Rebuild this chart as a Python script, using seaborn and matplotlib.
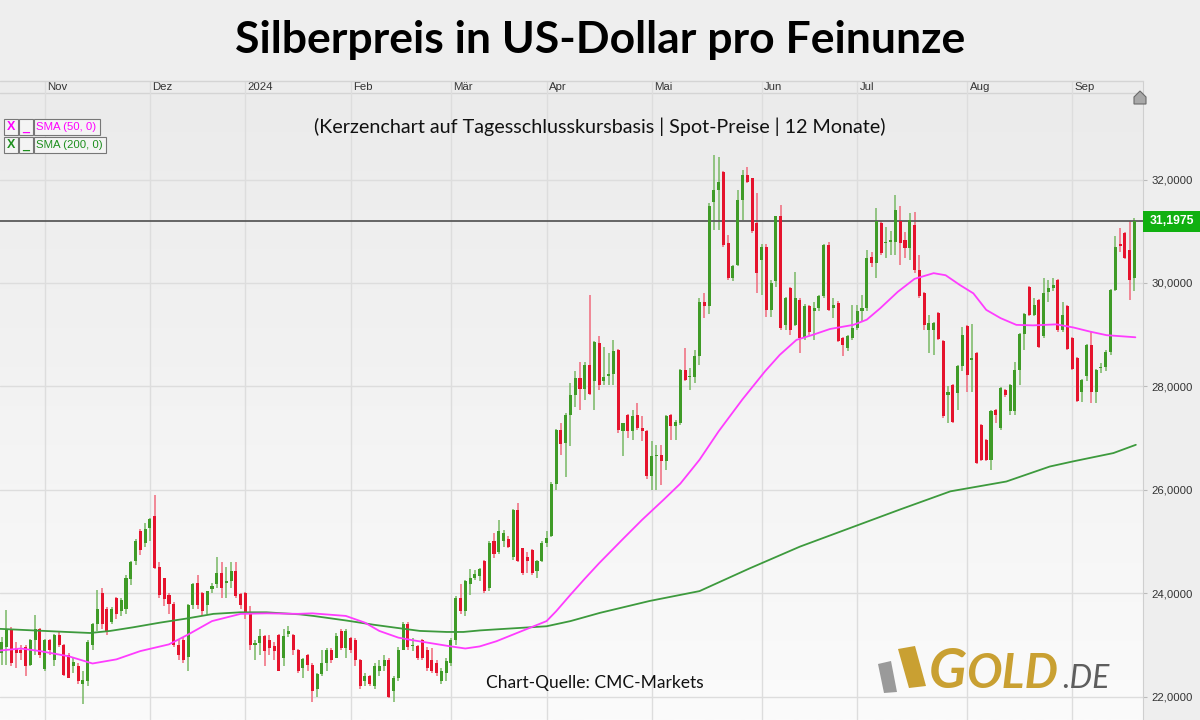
import numpy as np
import matplotlib
matplotlib.use("Agg")
import matplotlib.pyplot as plt
from matplotlib.patches import Polygon, Rectangle
from matplotlib.colors import LinearSegmentedColormap
import seaborn as sns

sns.set_style("white")
plt.rcParams["font.family"] = ["Liberation Sans", "DejaVu Sans"]

# month strip (first trading day index of each month)
month_labels = ["Nov", "Dez", "2024", "Feb", "Mär", "Apr", "Mai", "Jun", "Jul", "Aug", "Sep"]
month_start = [9, 31, 51, 73, 94, 114, 136, 159, 179, 202, 224]

# daily candles (Oct 2023 - Sep 2024)
opens = [22.85, 22.95, 23.30, 22.94, 22.90, 22.95, 22.62, 23.10, 23.30, 22.53,
         23.10, 22.70, 23.20, 23.00, 22.80, 22.60, 22.60, 22.24, 22.30, 23.00,
         23.40, 24.00, 23.70, 23.45, 23.90, 23.65, 23.70, 24.27, 24.62, 25.20,
         24.98, 25.26, 25.50, 24.50, 24.30, 23.97, 23.80, 23.00, 23.10, 22.77,
         23.78, 24.20, 24.00, 23.78, 24.08, 24.17, 24.40, 24.20, 24.23, 24.42,
         23.98, 24.00, 23.62, 23.00, 23.03, 23.17, 23.10, 22.98, 23.20, 22.75,
         23.22, 23.20, 22.90, 22.56, 22.80, 22.62, 22.14, 22.43, 22.65, 22.90,
         22.75, 23.27, 22.94, 23.13, 23.10, 22.70, 22.30, 22.40, 22.20, 22.50,
         22.60, 22.70, 22.10, 22.36, 22.90, 23.40, 22.97, 22.98, 23.10, 22.90,
         22.70, 22.65, 22.30, 22.46, 22.65, 23.10, 23.90, 23.65, 24.17, 24.30,
         24.33, 24.62, 24.10, 25.00, 24.80, 25.00, 25.04, 24.70, 25.60, 24.87,
         24.70, 24.84, 24.42, 24.62, 24.97, 25.10, 26.12, 27.16, 26.90, 27.45,
         27.84, 28.16, 27.94, 28.42, 28.10, 28.84, 28.11, 28.20, 28.24, 28.71,
         27.13, 27.45, 27.13, 27.45, 27.20, 27.13, 26.26, 26.65, 26.68, 26.55,
         27.45, 27.23, 27.30, 28.32, 28.18, 28.19, 28.58, 29.64, 29.55, 31.57,
         31.80, 32.15, 30.77, 30.10, 30.35, 31.61, 32.09, 32.03, 31.16, 30.45,
         30.70, 29.48, 30.03, 31.29, 29.19, 29.90, 29.19, 29.67, 28.93, 29.55,
         29.45, 29.51, 29.74, 30.74, 29.51, 29.61, 28.93, 28.74, 28.93, 29.13,
         29.45, 29.51, 30.51, 30.38, 31.16, 30.77, 30.80, 30.80, 31.20, 30.83,
         30.67, 31.12, 30.25, 29.80, 29.10, 29.10, 29.42, 28.87, 27.84, 28.03,
         27.87, 28.39, 29.16, 28.52, 28.64, 27.26, 26.97, 26.58, 27.55, 27.20,
         27.93, 27.52, 27.52, 28.32, 29.01, 29.93, 29.38, 29.67, 28.97, 29.83,
         29.90, 30.06, 29.10, 29.55, 28.93, 28.55, 27.90, 28.20, 28.80, 27.90,
         28.35, 28.38, 28.67, 29.87, 30.75, 30.96, 30.64, 30.09]
highs = [23.15, 23.68, 23.35, 23.05, 23.00, 23.00, 23.12, 23.57, 23.32, 23.12,
         23.12, 23.22, 23.24, 23.02, 22.85, 22.75, 22.65, 22.50, 23.10, 23.43,
         24.07, 24.10, 23.73, 23.73, 23.92, 23.90, 24.35, 24.62, 25.05, 25.25,
         25.35, 25.45, 25.90, 24.60, 24.30, 24.00, 23.82, 23.10, 23.15, 23.80,
         24.20, 24.35, 24.02, 24.05, 24.20, 24.70, 24.60, 24.50, 24.60, 24.60,
         24.00, 24.02, 23.76, 23.10, 23.30, 23.20, 23.20, 23.05, 23.22, 23.30,
         23.36, 23.22, 22.92, 22.75, 22.82, 22.65, 22.45, 22.90, 22.94, 22.94,
         23.23, 23.30, 23.30, 23.15, 23.13, 22.72, 22.45, 22.42, 22.65, 22.70,
         22.80, 22.75, 22.40, 22.95, 23.45, 23.45, 23.13, 23.00, 23.12, 22.95,
         22.94, 22.70, 22.55, 22.75, 23.13, 23.95, 24.17, 24.26, 24.46, 24.45,
         24.49, 24.64, 25.00, 25.16, 25.42, 25.22, 25.10, 25.62, 25.74, 24.88,
         24.80, 24.85, 24.64, 25.00, 25.20, 26.15, 27.18, 27.30, 27.48, 28.06,
         28.29, 28.48, 28.48, 29.77, 28.87, 28.97, 28.77, 28.64, 28.90, 28.72,
         27.30, 27.47, 27.55, 27.68, 27.42, 27.15, 26.94, 26.87, 26.87, 27.44,
         27.47, 27.35, 28.34, 28.74, 28.35, 28.71, 29.70, 29.80, 31.54, 32.48,
         32.44, 32.17, 30.93, 30.35, 31.80, 32.19, 32.25, 32.03, 31.74, 30.75,
         30.75, 30.05, 31.30, 31.50, 29.72, 29.92, 30.22, 29.70, 29.60, 29.58,
         29.64, 29.76, 30.76, 30.80, 29.70, 29.65, 28.95, 29.00, 29.58, 29.58,
         29.77, 30.64, 30.60, 31.45, 31.20, 31.09, 31.00, 31.70, 31.48, 30.99,
         31.35, 31.38, 30.54, 29.82, 29.38, 29.25, 29.44, 28.89, 28.00, 28.05,
         28.42, 29.15, 29.18, 29.20, 28.66, 27.28, 26.99, 27.54, 27.57, 27.99,
         27.95, 28.05, 28.48, 29.03, 29.42, 29.95, 29.71, 29.69, 30.09, 30.06,
         30.10, 30.08, 29.64, 29.57, 28.95, 28.57, 28.15, 28.82, 29.06, 28.34,
         28.45, 28.70, 29.89, 30.90, 31.06, 30.98, 31.20, 31.25]
lows = [22.62, 22.62, 22.60, 22.55, 22.70, 22.40, 22.60, 22.80, 22.75, 22.50,
        22.80, 22.60, 22.95, 22.40, 22.35, 22.45, 22.25, 21.85, 22.20, 22.90,
        23.26, 23.30, 23.20, 23.40, 23.50, 23.55, 23.60, 24.15, 24.55, 24.74,
        24.90, 25.00, 24.46, 23.90, 23.75, 23.60, 22.95, 22.70, 22.65, 22.50,
        23.70, 23.70, 23.55, 23.60, 24.00, 24.10, 23.90, 23.90, 24.10, 23.90,
        23.70, 23.50, 22.90, 22.70, 22.80, 22.60, 22.80, 22.70, 22.50, 22.60,
        23.15, 22.80, 22.45, 22.36, 22.50, 21.90, 22.00, 22.40, 22.50, 22.65,
        22.75, 22.90, 22.75, 22.85, 22.60, 22.15, 22.20, 22.20, 22.15, 22.40,
        22.50, 21.98, 21.90, 22.30, 22.90, 22.90, 22.88, 22.70, 22.70, 22.50,
        22.45, 22.40, 22.25, 22.30, 22.60, 23.00, 23.60, 23.55, 23.97, 24.25,
        24.23, 24.00, 24.04, 24.68, 24.75, 24.90, 24.88, 24.65, 24.60, 24.35,
        24.40, 24.35, 24.30, 24.60, 24.90, 25.08, 26.00, 26.68, 26.25, 26.84,
        27.60, 27.55, 27.74, 27.84, 27.55, 27.93, 28.03, 28.03, 28.03, 27.10,
        26.65, 27.00, 26.97, 27.16, 26.94, 26.20, 26.00, 26.00, 26.10, 26.39,
        26.97, 26.97, 27.26, 28.10, 27.93, 28.06, 28.42, 29.32, 29.40, 31.03,
        31.03, 30.70, 30.06, 30.03, 30.32, 31.22, 31.93, 30.97, 29.80, 29.77,
        29.35, 29.35, 29.93, 29.10, 29.10, 29.00, 29.16, 28.64, 28.90, 29.00,
        28.90, 29.45, 29.70, 29.45, 29.32, 28.85, 28.58, 28.68, 28.90, 29.10,
        29.25, 29.45, 30.30, 30.09, 30.54, 30.48, 30.54, 30.54, 30.35, 30.48,
        30.45, 30.20, 29.71, 29.10, 28.65, 28.61, 28.90, 27.39, 27.30, 27.30,
        27.55, 28.30, 27.90, 27.90, 26.49, 26.55, 26.55, 26.39, 27.30, 27.15,
        27.80, 27.45, 27.45, 28.03, 28.71, 29.36, 29.36, 28.75, 28.93, 29.64,
        29.85, 29.06, 29.06, 28.71, 28.32, 27.70, 27.70, 28.10, 27.68, 27.68,
        28.25, 28.30, 28.60, 29.84, 30.60, 30.46, 29.68, 29.84]
closes = [23.05, 23.30, 22.65, 22.85, 22.85, 22.60, 23.10, 23.30, 22.80, 23.10,
          22.90, 23.20, 23.00, 22.42, 22.36, 22.66, 22.30, 22.33, 23.05, 23.40,
          23.70, 23.40, 23.25, 23.70, 23.60, 23.87, 24.30, 24.60, 25.00, 24.84,
          25.24, 25.44, 24.49, 23.97, 23.88, 23.80, 23.00, 22.80, 22.70, 23.78,
          24.18, 23.78, 23.65, 24.04, 24.14, 24.40, 24.10, 24.22, 24.42, 23.94,
          23.78, 23.62, 23.00, 23.03, 23.17, 22.88, 22.94, 22.88, 22.50, 23.17,
          23.26, 22.90, 22.50, 22.72, 22.62, 22.10, 22.43, 22.65, 22.90, 22.70,
          23.17, 22.94, 23.27, 22.90, 22.70, 22.20, 22.40, 22.25, 22.60, 22.60,
          22.70, 22.00, 22.36, 22.90, 23.40, 22.95, 22.98, 22.75, 22.75, 22.55,
          22.50, 22.45, 22.50, 22.68, 23.10, 23.90, 23.65, 24.24, 24.30, 24.37,
          24.46, 24.04, 24.98, 24.75, 25.20, 25.17, 24.90, 25.60, 24.62, 24.40,
          24.62, 24.40, 24.62, 24.97, 25.06, 26.12, 27.16, 26.88, 27.45, 27.84,
          28.16, 27.94, 28.42, 27.86, 28.85, 28.02, 28.19, 28.23, 28.68, 27.16,
          27.29, 27.13, 27.42, 27.20, 27.13, 26.26, 26.65, 26.67, 26.55, 27.42,
          27.23, 27.32, 28.32, 28.13, 28.19, 28.58, 29.64, 29.55, 31.48, 31.80,
          31.96, 30.74, 30.10, 30.32, 31.61, 32.09, 31.96, 31.00, 30.19, 30.70,
          29.48, 30.00, 31.29, 29.13, 29.70, 29.10, 29.70, 28.93, 29.55, 29.06,
          29.51, 29.74, 30.74, 29.48, 29.58, 28.87, 28.80, 28.97, 29.13, 29.45,
          29.51, 30.48, 30.38, 31.19, 30.58, 30.80, 30.81, 31.42, 30.77, 30.67,
          31.22, 30.25, 29.74, 29.19, 29.22, 29.22, 28.92, 27.42, 27.90, 27.32,
          28.39, 29.00, 28.22, 28.55, 26.52, 26.58, 26.58, 27.52, 27.45, 27.97,
          27.84, 28.03, 28.32, 29.01, 29.40, 29.38, 29.58, 28.77, 29.80, 29.90,
          29.96, 29.10, 29.38, 28.73, 28.34, 27.72, 28.13, 28.80, 27.90, 28.32,
          28.38, 28.67, 29.87, 30.70, 30.72, 30.48, 30.06, 31.1975]

# moving averages (candle index, price)
sma50_x = [-0.4, 4, 8, 14, 19, 24, 29, 35, 39, 44, 50, 55.5, 62, 65, 72, 76, 79,
           83, 86, 90, 94, 97, 100, 103.5, 107, 110.5, 114, 116, 119, 122, 125,
           130, 134, 138.4, 142, 146, 150, 155, 159.7, 162.8, 166.3, 169.8, 173.3,
           178.2, 181, 183.8, 187.5, 191, 195, 197.5, 200.5, 203.3, 206, 209,
           212.3, 215.8, 220.7, 224.2, 227.7, 231.2, 237.2]
sma50_y = [22.89, 22.93, 22.88, 22.78, 22.64, 22.72, 22.88, 23.01, 23.20, 23.46,
           23.60, 23.61, 23.60, 23.61, 23.56, 23.43, 23.27, 23.14, 23.09, 23.03,
           22.97, 22.93, 22.97, 23.07, 23.20, 23.33, 23.46, 23.65, 23.97, 24.28,
           24.58, 25.05, 25.42, 25.80, 26.12, 26.58, 27.13, 27.75, 28.29, 28.61,
           28.90, 29.00, 29.11, 29.19, 29.29, 29.51, 29.83, 30.08, 30.19, 30.15,
           29.96, 29.80, 29.48, 29.32, 29.19, 29.18, 29.20, 29.14, 29.06, 28.99,
           28.95]
sma200_x = [-0.4, 6.6, 13.6, 18.5, 22.7, 27.5, 33.1, 38.7, 44.3, 49.9, 55.4, 62.4,
            65.2, 72.2, 77.8, 82.6, 87.5, 93.1, 96.6, 100.1, 103.5, 110.5, 114,
            119, 125.2, 135.6, 146, 156.5, 167, 177.5, 188, 198.5, 210.2, 219.3,
            224.2, 232.6, 237.3]
sma200_y = [23.31, 23.28, 23.25, 23.23, 23.27, 23.34, 23.43, 23.51, 23.60, 23.63,
            23.63, 23.59, 23.56, 23.47, 23.39, 23.33, 23.27, 23.25, 23.25, 23.28,
            23.30, 23.34, 23.36, 23.46, 23.62, 23.85, 24.04, 24.48, 24.90, 25.26,
            25.62, 25.97, 26.16, 26.45, 26.55, 26.71, 26.87]

price_ticks = [22, 24, 26, 28, 30, 32]
last_price = 31.1975

# price <-> pixel frame of the chart area
Y_BOTTOM, Y_PLOT_TOP, Y_STRIP_TOP = 21.547, 33.675, 33.907
X_LEFT, X_RIGHT = -0.36, 238.8

fig = plt.figure(figsize=(12, 7.2), dpi=100, facecolor="#eeeeee")
ax = fig.add_axes([0, 0, 1143 / 1200, 639 / 720])

# soft vertical gradient in the plot area
grad = np.linspace(0, 1, 256).reshape(-1, 1)
cmap = LinearSegmentedColormap.from_list("bg", ["#fbfbfb", "#ebebeb"])
ax.imshow(grad, extent=[X_LEFT, X_RIGHT, Y_BOTTOM, Y_PLOT_TOP], origin="lower",
          aspect="auto", cmap=cmap, zorder=0)
ax.axhspan(Y_PLOT_TOP, Y_STRIP_TOP, color="#ececec", zorder=0.5, lw=0)
ax.axhline(Y_PLOT_TOP, color="#d4d4d4", lw=1, zorder=1)

for m in month_start:
    ax.axvline(m, color="#dddddd", lw=1, zorder=1)
for p in price_ticks:
    ax.axhline(p, color="#dddddd", lw=1, zorder=1)

for m, lab in zip(month_start, month_labels):
    ax.text(m + 0.5, 33.79, lab, ha="left", va="center", fontsize=8.2, color="#333333", zorder=6)

# candles
o = np.array(opens)
h = np.array(highs)
lo = np.array(lows)
c = np.array(closes)
x = np.arange(len(o))
up = c >= o
bottom = np.minimum(o, c)
height = np.maximum(np.abs(c - o), 0.03)

ax.vlines(x[up], lo[up], h[up], color="#78b864", lw=1.1, zorder=3)
ax.vlines(x[~up], lo[~up], h[~up], color="#f06a7c", lw=1.1, zorder=3)
ax.axhline(last_price, color="#5a5a5a", lw=1.3, zorder=3.5)
ax.bar(x[up], height[up], bottom=bottom[up], width=0.64, color="#3f9b27", lw=0, zorder=4)
ax.bar(x[~up], height[~up], bottom=bottom[~up], width=0.64, color="#e5132d", lw=0, zorder=4)

sns.lineplot(x=sma200_x, y=sma200_y, ax=ax, color="#3d9a3d", lw=1.3, zorder=5, estimator=None)
sns.lineplot(x=sma50_x, y=sma50_y, ax=ax, color="#ff3cff", lw=1.3, zorder=5, estimator=None)

ax.set_xlim(X_LEFT, X_RIGHT)
ax.set_ylim(Y_BOTTOM, Y_STRIP_TOP)
ax.set_xticks([])
ax.yaxis.tick_right()
ax.set_yticks(price_ticks)
ax.set_yticklabels([f"{p:.4f}".replace(".", ",") for p in price_ticks])
ax.tick_params(axis="y", length=3, width=0.8, color="#bbbbbb", pad=3, labelsize=8.2, labelcolor="#333333")
for s in ["left", "top", "bottom"]:
    ax.spines[s].set_visible(False)
ax.spines["right"].set_color("#cfcfcf")
ax.set_xlabel("")
ax.set_ylabel("")

# overlay in pixel coordinates for titles, legend and logo
ov = fig.add_axes([0, 0, 1, 1], zorder=10)
ov.set_xlim(0, 1200)
ov.set_ylim(720, 0)
ov.axis("off")
ov.patch.set_alpha(0)

ov.plot([0, 1143], [81, 81], color="#d4d4d4", lw=1)
ov.text(600, 40, "Silberpreis in US-Dollar pro Feinunze", ha="center", va="center",
        fontsize=32, fontweight="bold", family=["Lato", "DejaVu Sans"], color="#000000")
ov.text(600, 127, "(Kerzenchart auf Tagesschlusskursbasis | Spot-Preise | 12 Monate)",
        ha="center", va="center", fontsize=14.2, family=["Lato", "DejaVu Sans"], color="#111111")
ov.text(595, 683, "Chart-Quelle: CMC-Markets", ha="center", va="center",
        fontsize=12.5, family=["Lato", "DejaVu Sans"], color="#111111")

# indicator legend
for yc, label, col, w in [(127, "SMA (50, 0)", "#ff00ff", 66), (145, "SMA (200, 0)", "#1e8f1e", 72)]:
    for x0, bw in [(4, 14), (19, 14), (34, w)]:
        ov.add_patch(Rectangle((x0, yc - 8), bw, 16, fc="#f4f4f4", ec="#777777", lw=0.8))
    ov.text(11, yc, "X", ha="center", va="center", color=col, fontsize=9, fontweight="bold")
    ov.text(26, yc + 1, "_", ha="center", va="center", color=col, fontsize=9, fontweight="bold")
    ov.text(36, yc, label, ha="left", va="center", color=col, fontsize=8.2)

# last price tag
ov.add_patch(Rectangle((1143, 211), 57, 21, fc="#10b010", ec="none"))
ov.text(1171.5, 221.5, "31,1975", ha="center", va="center", color="white", fontsize=8.8, fontweight="bold")

# scroll marker
ov.add_patch(Polygon([(1134, 104), (1134, 97), (1140, 91), (1146, 97), (1146, 104)],
                     closed=True, fc="#a8a8a8", ec="#6a6a6a", lw=0.8))

# GOLD.DE logo
ov.add_patch(Polygon([(878, 664), (891, 661), (897, 692), (884, 693)], closed=True,
                     fc="#9a9a9a", ec="none"))
ov.add_patch(Polygon([(898, 649), (915, 646), (926, 686), (909, 688)], closed=True,
                     fc="#c9a032", ec="none"))
ov.text(929, 688, "G", ha="left", va="baseline", fontsize=40, fontweight="bold",
        fontstyle="italic", color="#c9a032", family=["Lato", "DejaVu Sans"])
ov.text(966, 688, "OLD", ha="left", va="baseline", fontsize=34, fontweight="bold",
        fontstyle="italic", color="#c9a032", family=["Lato", "DejaVu Sans"])
ov.text(1062, 688, ".DE", ha="left", va="baseline", fontsize=23,
        fontstyle="italic", color="#5e5e5e", family=["Lato", "DejaVu Sans"])

fig.savefig("out.png", dpi=100, facecolor=fig.get_facecolor())
